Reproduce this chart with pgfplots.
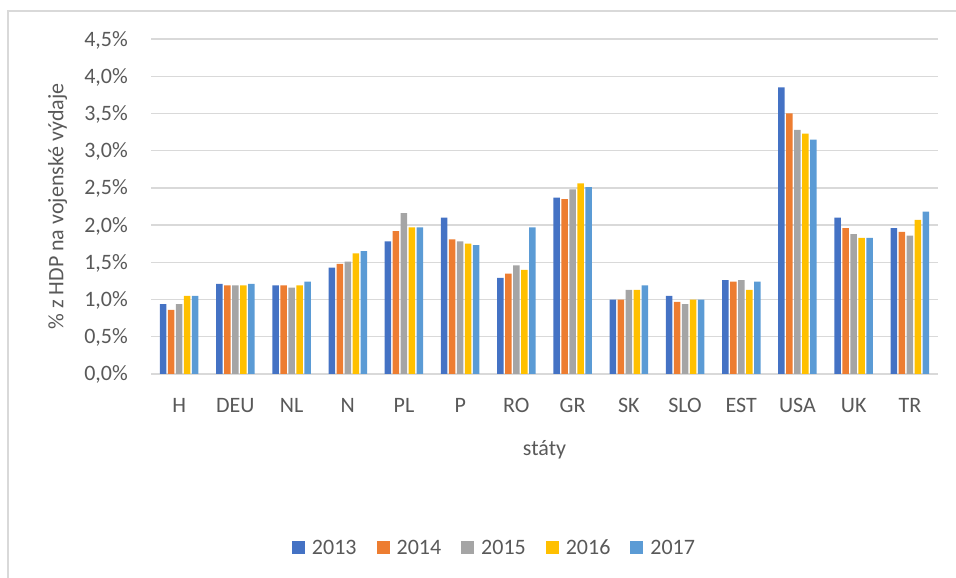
\documentclass[border=0pt]{standalone}
\usepackage{fontspec}
\setmainfont{Carlito}
\usepackage{pgfplots}
\usepackage{pgfplotstable}
\pgfplotsset{compat=1.18}
\definecolor{c13}{HTML}{4472C4}
\definecolor{c14}{HTML}{ED7D31}
\definecolor{c15}{HTML}{A5A5A5}
\definecolor{c16}{HTML}{FFC000}
\definecolor{c17}{HTML}{5B9BD5}
\definecolor{txt}{HTML}{595959}
\definecolor{grd}{HTML}{D9D9D9}
\pgfplotstableread{
x  a    b    c    d    e
0  0.94 0.86 0.94 1.05 1.05
1  1.21 1.19 1.19 1.19 1.21
2  1.19 1.19 1.16 1.19 1.24
3  1.43 1.48 1.51 1.62 1.65
4  1.78 1.92 2.16 1.97 1.97
5  2.10 1.81 1.78 1.75 1.73
6  1.29 1.35 1.46 1.40 1.97
7  2.37 2.35 2.48 2.56 2.51
8  1.00 1.00 1.13 1.13 1.19
9  1.05 0.97 0.94 1.00 1.00
10 1.26 1.24 1.26 1.13 1.24
11 3.85 3.50 3.28 3.23 3.15
12 2.10 1.96 1.88 1.83 1.83
13 1.96 1.91 1.86 2.07 2.18
}\data
\begin{document}
\begin{tikzpicture}
\useasboundingbox (0,0) rectangle (956bp,578bp);
\draw[grd, line width=1.2bp] (8bp,0) -- (8bp,567bp) -- (956bp,567bp);
\begin{axis}[
  at={(151bp,204bp)}, anchor=south west,
  scale only axis, width=787bp, height=335bp,
  xmin=-0.5, xmax=13.5, ymin=0, ymax=4.5,
  ybar=1.5bp, bar width=6.5bp,
  xtick={0,...,13},
  xticklabels={H,DEU,NL,N,PL,P,RO,GR,SK,SLO,EST,USA,UK,TR},
  ytick={0,0.5,...,4.5},
  /pgf/number format/assume math mode=true,
  yticklabel={\pgfmathprintnumber[fixed,fixed zerofill,precision=1,use comma]{\tick}\%},
  ymajorgrids, major grid style={grd, line width=1.3bp},
  axis lines*=left,
  y axis line style={draw=none},
  x axis line style={grd, line width=1.3bp},
  major tick length=0pt,
  tick style={draw=none},
  font=\fontsize{22bp}{26bp}\selectfont,
  tick label style={text=txt, font=\fontsize{22bp}{26bp}\selectfont},
  xticklabel style={anchor=base, yshift=-38.5bp},
  yticklabel style={anchor=base east, inner sep=0pt, xshift=-23bp, yshift=-7bp},
  xlabel={státy},
  every axis x label/.style={at={(axis description cs:0.5,0)}, anchor=base, yshift=-81bp, text=txt},
  ylabel={\% z HDP na vojenské výdaje},
  every axis y label/.style={at={(axis description cs:-0.1112,0.5)}, rotate=90, anchor=base, text=txt},
  legend columns=5,
  legend style={draw=none, at={(0.4352,-0.5194)}, anchor=center, text=txt,
    font=\fontsize{22bp}{26bp}\selectfont,
    nodes={inner sep=0pt},
    /tikz/every odd column/.append style={column sep=7bp},
    /tikz/every even column/.append style={column sep=20bp}},
  legend image code/.code={\fill[#1,draw=none] (0bp,-6.5bp) rectangle (13bp,6.5bp);},
]
\addplot[fill=c13, draw=none] table[x=x,y=a] \data;
\addplot[fill=c14, draw=none] table[x=x,y=b] \data;
\addplot[fill=c15, draw=none] table[x=x,y=c] \data;
\addplot[fill=c16, draw=none] table[x=x,y=d] \data;
\addplot[fill=c17, draw=none] table[x=x,y=e] \data;
\legend{2013,2014,2015,2016,2017}
\end{axis}
\end{tikzpicture}
\end{document}
